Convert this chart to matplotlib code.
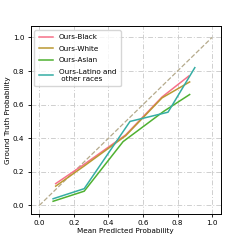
import matplotlib

matplotlib.use("Agg")
import matplotlib.pyplot as plt

# calibration curves
black_x = [0.095, 0.26, 0.50, 0.71, 0.865]
black_y = [0.13, 0.245, 0.42, 0.645, 0.77]
white_x = [0.095, 0.26, 0.50, 0.71, 0.87]
white_y = [0.115, 0.235, 0.415, 0.64, 0.735]
asian_x = [0.08, 0.26, 0.485, 0.72, 0.87]
asian_y = [0.025, 0.085, 0.38, 0.56, 0.66]
latino_x = [0.08, 0.26, 0.525, 0.745, 0.90]
latino_y = [0.04, 0.10, 0.50, 0.555, 0.82]

labels = ["Ours-Black", "Ours-White", "Ours-Asian", "Ours-Latino and\n other races"]
colors = ["#f77189", "#bb9832", "#50b131", "#36ada4"]
ticks = [0.0, 0.2, 0.4, 0.6, 0.8, 1.0]

fs = 5.2
fig = plt.figure(figsize=(2.45, 2.45), dpi=100)
ax = fig.add_axes([0.125, 0.127, 0.776, 0.765])

ax.plot([0, 1], [0, 1], linestyle="--", color="#b5aa8c", lw=0.9)
series = [(black_x, black_y), (white_x, white_y), (asian_x, asian_y), (latino_x, latino_y)]
for (xs, ys), lab, c in zip(series, labels, colors):
    ax.plot(xs, ys, color=c, lw=1.1, label=lab)

ax.set_xlim(-0.05, 1.05)
ax.set_ylim(-0.05, 1.065)
ax.set_xticks(ticks)
ax.set_yticks(ticks)
ax.set_xticklabels([f"{t:.1f}" for t in ticks])
ax.set_yticklabels([f"{t:.1f}" for t in ticks])
ax.tick_params(labelsize=fs, length=2.5, width=0.6, pad=2)
ax.grid(True, linestyle=(0, (5, 2, 1, 2)), color="#cfcfcf", lw=0.7)
ax.set_axisbelow(True)
for s in ax.spines.values():
    s.set_linewidth(0.7)

ax.set_xlabel("Mean Predicted Probability", fontsize=fs, labelpad=1.5)
ax.set_ylabel("Ground Truth Probability", fontsize=fs, labelpad=1.5)
ax.legend(loc="upper left", fontsize=fs, frameon=True, handlelength=2.0,
          labelspacing=0.75, borderpad=0.6)

fig.savefig("out.png", dpi=100)
